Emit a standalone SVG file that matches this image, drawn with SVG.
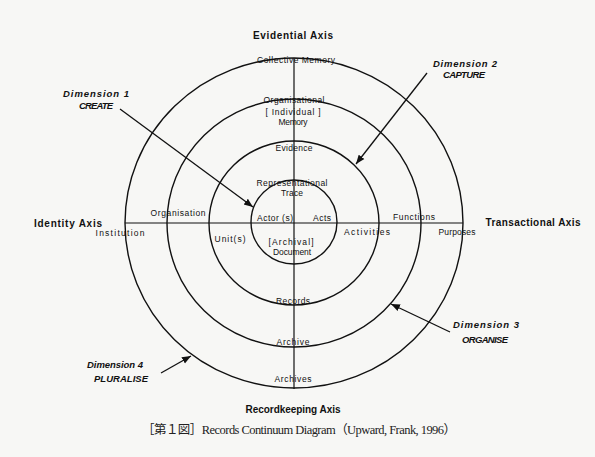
<svg xmlns="http://www.w3.org/2000/svg" width="595" height="457" viewBox="0 0 595 457">
<defs>
<style>
.ring{fill:none;stroke:#111;stroke-width:1.4}
.axis{stroke:#111;stroke-width:1.2}
.arr{stroke:#111;stroke-width:1.3;fill:none}
.lbl{font-family:"Liberation Sans",Arial,sans-serif;font-size:8.5px;fill:#111;text-anchor:middle}
.ax{font-family:"Liberation Sans",Arial,sans-serif;font-size:10px;font-weight:bold;fill:#111;text-anchor:middle}
.dim{font-family:"Liberation Sans",Arial,sans-serif;font-size:9.5px;font-weight:bold;font-style:italic;fill:#111;text-anchor:middle}
.cap{font-family:"Liberation Serif","Noto Sans CJK JP",serif;font-size:12.5px;fill:#222}
</style>
<marker id="ah" viewBox="0 0 10 10" refX="10" refY="5" markerWidth="9" markerHeight="9" markerUnits="userSpaceOnUse" orient="auto">
<path d="M0,1 L10,5 L0,9 Z" fill="#111"/>
</marker>
</defs>
<rect width="595" height="457" fill="#f7f7f5"/>

<g id="rings">
<ellipse id="ring4" class="ring" cx="294" cy="223" rx="169" ry="165"/>
<ellipse id="ring3" class="ring" cx="294" cy="223" rx="127" ry="124"/>
<ellipse id="ring2" class="ring" cx="294" cy="223" rx="85" ry="82"/>
<ellipse id="ring1" class="ring" cx="294" cy="222" rx="43" ry="42"/>
</g>

<g id="connectors">
<line class="axis" x1="294" y1="58" x2="294" y2="389"/>
<line class="axis" x1="125" y1="223" x2="463" y2="223"/>
<line class="arr" x1="120" y1="109" x2="253" y2="207" marker-end="url(#ah)"/>
<line class="arr" x1="427" y1="73" x2="356" y2="164" marker-end="url(#ah)"/>
<line class="arr" x1="450" y1="332" x2="391" y2="304" marker-end="url(#ah)"/>
<line class="arr" x1="161" y1="373" x2="191" y2="356" marker-end="url(#ah)"/>
</g>

<g id="axes">
<text class="ax" x="293" y="39" textLength="80">Evidential Axis</text>
<text class="ax" x="68" y="227" textLength="68">Identity Axis</text>
<text class="ax" x="533" y="226" textLength="95">Transactional Axis</text>
<text class="ax" x="293" y="413" textLength="95">Recordkeeping Axis</text>
</g>

<g id="dim1">
<text class="dim" x="96" y="97" textLength="66">Dimension 1</text>
<text class="dim" x="96" y="109" textLength="34">CREATE</text>
</g>
<g id="dim2">
<text class="dim" x="465" y="67" textLength="64">Dimension 2</text>
<text class="dim" x="464" y="78" textLength="42">CAPTURE</text>
</g>
<g id="dim3">
<text class="dim" x="486" y="328" textLength="66">Dimension 3</text>
<text class="dim" x="485" y="343" textLength="46">ORGANISE</text>
</g>
<g id="dim4">
<text class="dim" x="115" y="368" textLength="56">Dimension 4</text>
<text class="dim" x="121" y="382" textLength="54">PLURALISE</text>
</g>

<g id="evidential-labels">
<text class="lbl" x="296" y="63" textLength="78">Collective Memory</text>
<text class="lbl" x="294" y="103" textLength="61">Organisational</text>
<text class="lbl" x="293" y="115" textLength="55">[ Individual ]</text>
<text class="lbl" x="293" y="125" textLength="29">Memory</text>
<text class="lbl" x="294" y="151" textLength="37">Evidence</text>
<text class="lbl" x="292" y="186" textLength="71">Representational</text>
<text class="lbl" x="292" y="196" textLength="22">Trace</text>
</g>

<g id="centre-labels">
<text class="lbl" x="275" y="221" textLength="36">Actor (s)</text>
<text class="lbl" x="322" y="221" textLength="18">Acts</text>
<text class="lbl" x="291" y="245" textLength="45">[Archival]</text>
<text class="lbl" x="292" y="255" textLength="38">Document</text>
</g>

<g id="identity-labels">
<text class="lbl" x="230" y="242" textLength="31">Unit(s)</text>
<text class="lbl" x="178" y="216" textLength="55">Organisation</text>
<text class="lbl" x="120" y="236" textLength="49">Institution</text>
</g>

<g id="transactional-labels">
<text class="lbl" x="367" y="235" textLength="46">Activities</text>
<text class="lbl" x="414" y="220" textLength="42">Functions</text>
<text class="lbl" x="457" y="235" textLength="37">Purposes</text>
</g>

<g id="recordkeeping-labels">
<text class="lbl" x="293" y="304" textLength="34">Records</text>
<text class="lbl" x="293" y="345" textLength="33">Archive</text>
<text class="lbl" x="293" y="382" textLength="37">Archives</text>
</g>

<text class="cap" x="142" y="434" textLength="314">［第１図］Records Continuum Diagram（Upward, Frank, 1996）</text>
</svg>
